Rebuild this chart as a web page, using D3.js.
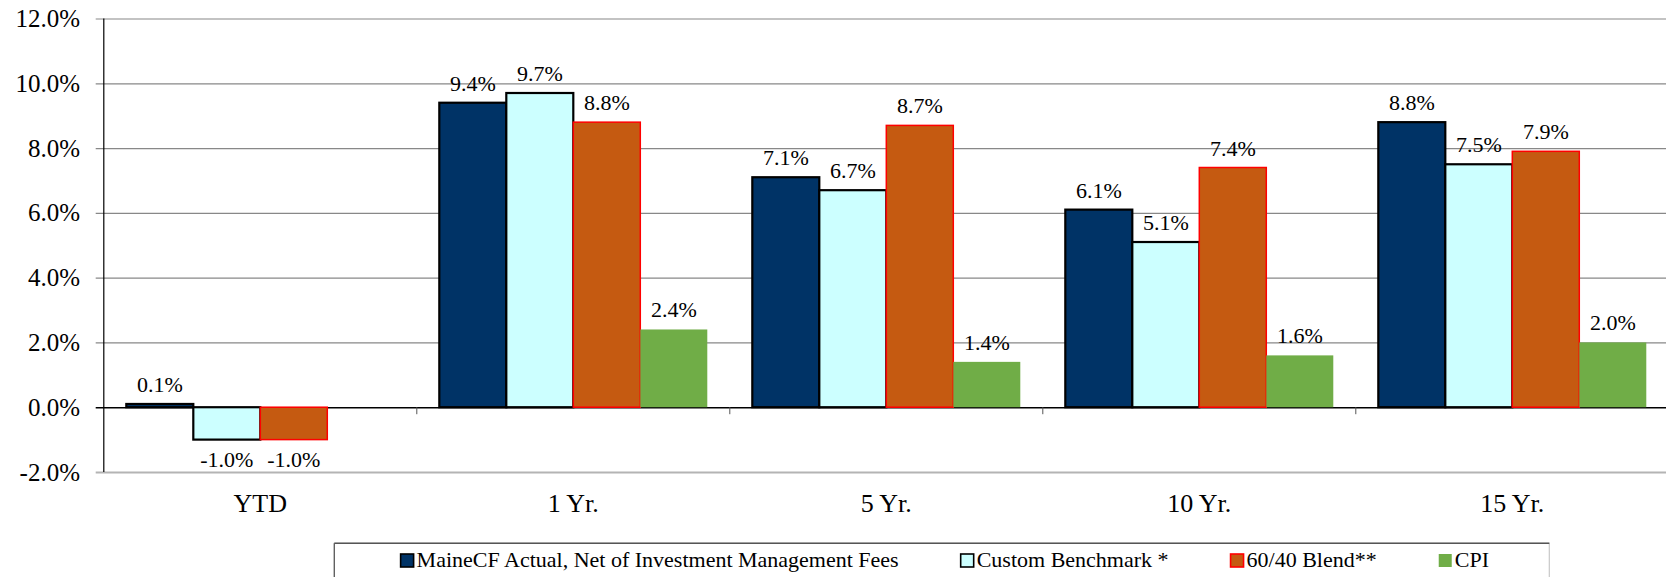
<!DOCTYPE html>
<html>
<head>
<meta charset="utf-8">
<script src="https://cdn.jsdelivr.net/npm/d3@7/dist/d3.min.js"></script>
<style>
  html, body { margin: 0; padding: 0; background: #fff; }
  svg { display: block; }
  svg text { font-family: "Liberation Serif", "Times New Roman", serif; fill: #000; }
</style>
</head>
<body>
<div id="chart"></div>
<script>
// chart data
const categories = ["YTD", "1 Yr.", "5 Yr.", "10 Yr.", "15 Yr."];
const seriesNames = ["MaineCF Actual, Net of Investment Management Fees", "Custom Benchmark *", "60/40 Blend**", "CPI"];
const maineCF = [0.1, 9.4, 7.1, 6.1, 8.8];
const customBenchmark = [-1.0, 9.7, 6.7, 5.1, 7.5];
const blend6040 = [-1.0, 8.8, 8.7, 7.4, 7.9];
const cpi = [null, 2.4, 1.4, 1.6, 2.0];
const yTicks = [-2, 0, 2, 4, 6, 8, 10, 12];

// look of each series (fill, outline)
const fills = ["#003366", "#CCFFFF", "#C55A11", "#70AD47"];
const strokes = ["#000000", "#000000", "#FF0000", "none"];
const strokeW = [2.2, 2.2, 1.5, 0];

const allSeries = [maineCF, customBenchmark, blend6040, cpi];

const W = 1666, H = 577;
const plotL = 103.8, plotR = 1668.8, plotT = 18.5, plotB = 472;
const serif = "'Liberation Serif', 'Times New Roman', serif";

const svg = d3.select("#chart").append("svg")
    .attr("width", W)
    .attr("height", H)
    .attr("font-family", serif);

const x0 = d3.scaleBand().domain(categories).range([plotL, plotR]).padding(0);
const x1 = d3.scaleBand().domain(d3.range(seriesNames.length))
    .range([0, x0.bandwidth()]).paddingInner(0).paddingOuter(0.336);
const y = d3.scaleLinear().domain([-2, 12]).range([plotB, plotT]);

const fmt = d3.formatLocale({ decimal: ".", thousands: ",", grouping: [3], currency: ["$", ""], minus: "-" }).format(".1f");

// grid + y labels
const yAxis = d3.axisLeft(y)
    .tickValues(yTicks)
    .tickSize(-(W - 95.7))
    .tickPadding(15.7)
    .tickFormat(d => fmt(d) + "%");

const gy = svg.append("g")
    .attr("transform", "translate(95.7,0)")
    .call(yAxis)
    .attr("font-size", 25)
    .attr("font-family", serif);
gy.select(".domain").remove();
gy.selectAll(".tick line")
    .attr("stroke", d => d === 0 ? "#000" : (d === -2 ? "#b4b4b4" : "#888"))
    .attr("stroke-width", d => d === 0 ? 1.5 : (d === -2 ? 2 : 1.2));
gy.selectAll(".tick text")
    .attr("font-size", 25)
    .attr("font-family", serif)
    .attr("fill", "#000");

// y axis line
svg.append("line")
    .attr("x1", plotL).attr("x2", plotL)
    .attr("y1", y(12)).attr("y2", y(-2))
    .attr("stroke", "#000").attr("stroke-width", 1.2);

// category separator ticks
svg.append("g").selectAll("line")
    .data(categories.slice(1))
    .join("line")
    .attr("x1", d => x0(d)).attr("x2", d => x0(d))
    .attr("y1", y(0)).attr("y2", y(0) + 7)
    .attr("stroke", "#555").attr("stroke-width", 1);

// bars
const rows = [];
categories.forEach((c, ci) => {
    allSeries.forEach((s, si) => {
        if (s[ci] !== null) rows.push({ cat: c, si: si, v: s[ci] });
    });
});

svg.append("g").selectAll("rect")
    .data(rows)
    .join("rect")
    .attr("x", d => x0(d.cat) + x1(d.si))
    .attr("width", x1.bandwidth())
    .attr("y", d => y(Math.max(0, d.v)))
    .attr("height", d => Math.abs(y(d.v) - y(0)))
    .attr("fill", d => fills[d.si])
    .attr("stroke", d => strokes[d.si])
    .attr("stroke-width", d => strokeW[d.si]);

// value labels
svg.append("g").selectAll("text")
    .data(rows)
    .join("text")
    .attr("x", d => x0(d.cat) + x1(d.si) + x1.bandwidth() / 2)
    .attr("y", d => d.v >= 0 ? y(d.v) - 12 : y(d.v) + 27)
    .attr("text-anchor", "middle")
    .attr("font-size", 22)
    .text(d => fmt(d.v) + "%");

// category labels
svg.append("g").selectAll("text")
    .data(categories)
    .join("text")
    .attr("x", d => x0(d) + x0.bandwidth() / 2)
    .attr("y", 511.5)
    .attr("text-anchor", "middle")
    .attr("font-size", 26)
    .text(d => d);

// legend box
const lgX = 334.3, lgY = 543.3, lgW = 1215;
svg.append("rect")
    .attr("x", lgX).attr("y", lgY)
    .attr("width", lgW).attr("height", 60)
    .attr("fill", "#fff")
    .attr("stroke", "#c8c8c8").attr("stroke-width", 1.2);
svg.append("line")
    .attr("x1", lgX).attr("x2", lgX + lgW)
    .attr("y1", lgY).attr("y2", lgY)
    .attr("stroke", "#555").attr("stroke-width", 1.5);
svg.append("line")
    .attr("x1", lgX).attr("x2", lgX)
    .attr("y1", lgY).attr("y2", H)
    .attr("stroke", "#555").attr("stroke-width", 1.2);

const lg = svg.append("g");
const items = lg.selectAll("g")
    .data(seriesNames)
    .join("g");
items.append("rect")
    .attr("x", 0).attr("y", 554)
    .attr("width", 13).attr("height", 13)
    .attr("fill", (d, i) => fills[i])
    .attr("stroke", (d, i) => strokes[i])
    .attr("stroke-width", (d, i) => strokeW[i] ? 1.6 : 0);
items.append("text")
    .attr("x", 16).attr("y", 567.3)
    .attr("font-size", 22)
    .text(d => d);

// lay legend items out side by side, centred in the box
let pos = 0;
const offsets = [];
items.each(function () {
    offsets.push(pos);
    pos += 16 + this.querySelector("text").getComputedTextLength() + 62;
});
const total = pos - 62;
const startX = lgX + lgW / 2 - total / 2 + 3;
items.attr("transform", (d, i) => `translate(${startX + offsets[i]},0)`);
</script>
</body>
</html>
